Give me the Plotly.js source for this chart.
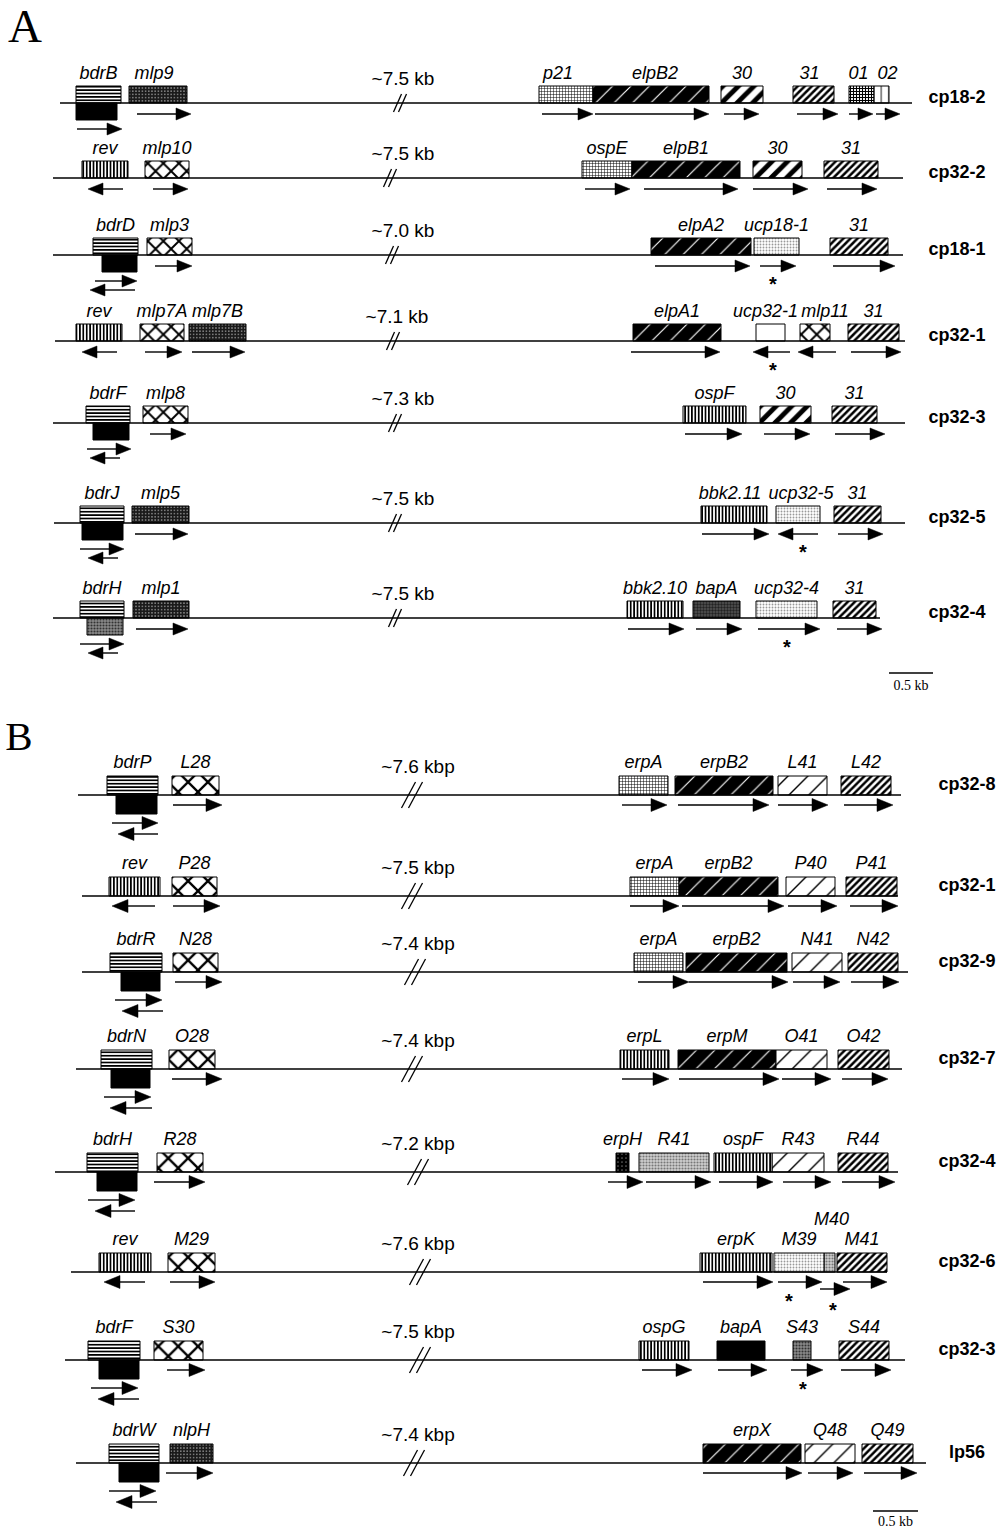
<!DOCTYPE html>
<html><head><meta charset="utf-8">
<script src="https://cdn.plot.ly/plotly-3.0.1.min.js"></script>
<style>html,body{margin:0;padding:0;background:#fff}</style>
</head><body><div id="chart" style="width:1002px;height:1531px"></div>
<script>
// ================= DATA (map units along the plasmid) =================
// ---- Panel A ----
const rowNamesA = ['cp18-2','cp32-2','cp18-1','cp32-1','cp32-3','cp32-5','cp32-4'];
const rowYA     = [103,178,255,341,423,523,618];
const lineStartA= [60,53,53,55,53,54,53];
const lineEndA  = [912,903,903,905,905,905,880];
const gapTextA  = ['~7.5 kb','~7.5 kb','~7.0 kb','~7.1 kb','~7.3 kb','~7.5 kb','~7.5 kb'];
const breakXA   = [400,390,392,393,395,395,395];
// [row, gene, start, end, fill, level(u=above line, d=below), labelShift, labelLift]
const genesA = [
 [0,'bdrB',76,121,'hlines','u'],[0,'',76,117,'black','d'],[0,'mlp9',129,187,'speckle','u',-4],
 [0,'p21',539,593,'grid','u',-8],[0,'elpB2',593,709,'blackdiag','u',4],[0,'30',721,763,'bolddiag','u'],
 [0,'31',793,834,'densediag','u',-4],[0,'01',849,874,'checker','u',-3],[0,'02',874,889,'split','u',6],
 [1,'rev',82,128,'vlines','u'],[1,'mlp10',145,189,'cross','u'],[1,'ospE',582,632,'grid','u'],
 [1,'elpB1',632,740,'blackdiag','u'],[1,'30',753,802,'bolddiag','u'],[1,'31',824,878,'densediag','u'],
 [2,'bdrD',93,138,'hlines','u'],[2,'',102,137,'black','d'],[2,'mlp3',147,192,'cross','u'],
 [2,'elpA2',651,751,'blackdiag','u'],[2,'ucp18-1',754,799,'lightdot','u'],[2,'31',830,888,'densediag','u'],
 [3,'rev',76,122,'vlines','u'],[3,'mlp7A',140,184,'cross','u'],[3,'mlp7B',189,246,'speckle','u'],
 [3,'elpA1',633,721,'blackdiag','u'],[3,'ucp32-1',756,785,'white','u',-5],[3,'mlp11',800,830,'cross','u',10],
 [3,'31',848,899,'densediag','u'],
 [4,'bdrF',86,130,'hlines','u'],[4,'',93,129,'black','d'],[4,'mlp8',143,188,'cross','u'],
 [4,'ospF',683,746,'vlines','u'],[4,'30',760,811,'bolddiag','u'],[4,'31',832,877,'densediag','u'],
 [5,'bdrJ',80,124,'hlines','u'],[5,'',82,123,'black','d'],[5,'mlp5',132,189,'speckle','u'],
 [5,'bbk2.11',701,767,'vlines','u',-4],[5,'ucp32-5',776,820,'lightdot','u',3],[5,'31',834,881,'densediag','u'],
 [6,'bdrH',80,124,'hlines','u'],[6,'',87,123,'darkgray','d'],[6,'mlp1',133,189,'speckle','u'],
 [6,'bbk2.10',627,683,'vlines','u'],[6,'bapA',693,740,'darkdot','u'],[6,'ucp32-4',756,817,'lightdot','u'],
 [6,'31',833,876,'densediag','u']
];
// [row, from, to, lane]  (direction = from -> to)
const arrowsA = [
 [0,137,191,0],[0,77,122,1],[0,542,593,0],[0,595,709,0],[0,724,759,0],[0,797,838,0],[0,849,873,0],[0,876,900,0],
 [1,123,88,0],[1,153,188,0],[1,585,630,0],[1,644,738,0],[1,753,808,0],[1,827,877,0],
 [2,155,192,0],[2,95,137,1],[2,135,90,2],[2,655,750,0],[2,760,796,0],[2,833,895,0],
 [3,117,82,0],[3,145,182,0],[3,192,245,0],[3,631,720,0],[3,790,753,0],[3,836,798,0],[3,851,901,0],
 [4,150,186,0],[4,87,131,1],[4,120,90,2],[4,685,742,0],[4,764,810,0],[4,835,885,0],
 [5,135,188,0],[5,80,124,1],[5,118,88,2],[5,702,769,0],[5,818,778,0],[5,838,883,0],
 [6,136,188,0],[6,80,124,1],[6,118,88,2],[6,628,684,0],[6,696,742,0],[6,758,820,0],[6,837,882,0]
];
const starsA = [[2,773,0],[3,773,0],[5,803,0],[6,787,0]];
const scaleA = [889,933,'0.5 kb'];

// ---- Panel B ----
const rowNamesB = ['cp32-8','cp32-1','cp32-9','cp32-7','cp32-4','cp32-6','cp32-3','lp56'];
const rowYB     = [795,896,972,1069,1172,1272,1360,1463];
const lineStartB= [78,82,82,76,55,71,65,76];
const lineEndB  = [901,898,908,902,898,887,905,926];
const gapTextB  = ['~7.6 kbp','~7.5 kbp','~7.4 kbp','~7.4 kbp','~7.2 kbp','~7.6 kbp','~7.5 kbp','~7.4 kbp'];
const breakXB   = [412,412,415,412,418,420,420,414];
const genesB = [
 [0,'bdrP',107,158,'hlines','u'],[0,'',116,157,'black','d'],[0,'L28',172,219,'crossL','u'],
 [0,'erpA',619,668,'grid','u'],[0,'erpB2',675,773,'blackdiag','u'],[0,'L41',778,827,'thindiag','u'],[0,'L42',841,891,'densediag','u'],
 [1,'rev',109,160,'vlines','u'],[1,'P28',172,217,'crossL','u'],
 [1,'erpA',630,679,'grid','u'],[1,'erpB2',679,778,'blackdiag','u'],[1,'P40',786,835,'thindiag','u'],[1,'P41',846,897,'densediag','u'],
 [2,'bdrR',110,162,'hlines','u'],[2,'',121,160,'black','d'],[2,'N28',173,218,'crossL','u'],
 [2,'erpA',634,683,'grid','u'],[2,'erpB2',686,787,'blackdiag','u'],[2,'N41',792,842,'thindiag','u'],[2,'N42',848,898,'densediag','u'],
 [3,'bdrN',101,152,'hlines','u'],[3,'',111,150,'black','d'],[3,'O28',169,215,'crossL','u'],
 [3,'erpL',620,669,'vlines','u'],[3,'erpM',678,776,'blackdiag','u'],[3,'O41',776,827,'thindiag','u'],[3,'O42',838,889,'densediag','u'],
 [4,'bdrH',87,138,'hlines','u'],[4,'',97,137,'black','d'],[4,'R28',157,203,'crossL','u'],
 [4,'erpH',616,629,'blackdot','u'],[4,'R41',639,709,'gray','u'],[4,'ospF',714,772,'vlines','u'],
 [4,'R43',772,824,'thindiag','u'],[4,'R44',838,888,'densediag','u'],
 [5,'rev',99,151,'vlines','u'],[5,'M29',168,215,'crossL','u'],
 [5,'erpK',700,772,'vlines','u'],[5,'M39',774,824,'lightdot','u'],[5,'M40',824,835,'gray','u',2,20],[5,'M41',837,887,'densediag','u'],
 [6,'bdrF',88,140,'hlines','u'],[6,'',99,139,'black','d'],[6,'S30',154,203,'crossL','u'],
 [6,'ospG',639,689,'vlines','u'],[6,'bapA',717,765,'black','u'],[6,'S43',793,811,'darkgray','u'],[6,'S44',839,889,'densediag','u'],
 [7,'bdrW',109,159,'hlines','u'],[7,'',119,159,'black','d'],[7,'nlpH',170,213,'speckle','u'],
 [7,'erpX',703,801,'blackdiag','u'],[7,'Q48',805,855,'thindiag','u'],[7,'Q49',862,913,'densediag','u']
];
const arrowsB = [
 [0,173,222,0],[0,112,158,1],[0,158,118,2],[0,622,667,0],[0,678,769,0],[0,778,828,0],[0,844,893,0],
 [1,155,112,0],[1,173,220,0],[1,630,679,0],[1,682,784,0],[1,788,837,0],[1,850,898,0],
 [2,175,222,0],[2,115,162,1],[2,163,122,2],[2,638,689,0],[2,689,788,0],[2,793,840,0],[2,851,899,0],
 [3,172,222,0],[3,104,151,1],[3,152,110,2],[3,622,669,0],[3,679,779,0],[3,782,831,0],[3,842,888,0],
 [4,154,205,0],[4,88,135,1],[4,135,95,2],[4,608,643,0],[4,646,711,0],[4,719,773,0],[4,783,831,0],[4,842,895,0],
 [5,145,104,0],[5,170,215,0],[5,703,773,0],[5,778,822,0],[5,820,850,3],[5,843,887,0],
 [6,167,205,0],[6,91,138,1],[6,139,98,2],[6,642,692,0],[6,718,767,0],[6,791,823,0],[6,841,891,0],
 [7,166,213,0],[7,109,156,1],[7,157,116,2],[7,703,802,0],[7,808,853,0],[7,864,917,0]
];
const starsB = [[5,789,0],[5,833,1],[6,803,0]];
const scaleB = [873,918,'0.5 kb'];

// ================= STYLES =================
const SANS = 'Liberation Sans, Arial, Helvetica, sans-serif';
const SERIF = 'Liberation Serif, Times New Roman, serif';
const FILLS = {
  hlines:   {bg:'#fff', p:{shape:'-', fgcolor:'#000', size:3.4, solidity:0.5}},
  black:    {bg:'#000'},
  speckle:  {bg:'#1a1a1a', p:{shape:'.', fgcolor:'#fff', size:3.2, solidity:0.12}},
  grid:     {bg:'#fff', p:{shape:'+', fgcolor:'#000', size:3, solidity:0.3}},
  blackdiag:{bg:'#000', p:{shape:'/', fgcolor:'#fff', size:13, solidity:0.09}},
  bolddiag: {bg:'#fff', p:{shape:'/', fgcolor:'#000', size:11, solidity:0.45}},
  densediag:{bg:'#fff', p:{shape:'/', fgcolor:'#000', size:5, solidity:0.5}},
  checker:  {bg:'#fff', p:{shape:'+', fgcolor:'#000', size:3, solidity:0.6}},
  split:    {bg:'#fff', p:{shape:'|', fgcolor:'#000', size:7.5, solidity:0.12}},
  vlines:   {bg:'#fff', p:{shape:'|', fgcolor:'#000', size:3.4, solidity:0.5}},
  cross:    {bg:'#fff', p:{shape:'x', fgcolor:'#000', size:11, solidity:0.32}},
  crossL:   {bg:'#fff', p:{shape:'x', fgcolor:'#000', size:14, solidity:0.3}},
  lightdot: {bg:'#fff', p:{shape:'.', fgcolor:'#999', size:3, solidity:0.3}},
  white:    {bg:'#fff'},
  thindiag: {bg:'#fff', p:{shape:'/', fgcolor:'#000', size:14, solidity:0.1}},
  gray:     {bg:'#cfcfcf', p:{shape:'.', fgcolor:'#777', size:3, solidity:0.4}},
  darkgray: {bg:'#8a8a8a', p:{shape:'.', fgcolor:'#333', size:3, solidity:0.4}},
  darkdot:  {bg:'#555', p:{shape:'.', fgcolor:'#222', size:3, solidity:0.5}},
  blackdot: {bg:'#000', p:{shape:'.', fgcolor:'#666', size:4, solidity:0.15}}
};
const PANELS = [
  {rows:rowNamesA, base:rowYA, ls:lineStartA, le:lineEndA, gap:gapTextA, brk:breakXA,
   genes:genesA, arrows:arrowsA, stars:starsA, scale:scaleA,
   boxH:17, laneDy:[11,26,35,17], starDy:[31,41], labelLift:12, rowLabelX:957, rowLabelDy:-5,
   gapX:403, gapDy:-23, brkH:9, brkDx:4, brkSep:5, headL:15, headH:6, scaleY:673, scaleDy:13,
   letter:'A', letterX:25, letterY:30, letterSize:47},
  {rows:rowNamesB, base:rowYB, ls:lineStartB, le:lineEndB, gap:gapTextB, brk:breakXB,
   genes:genesB, arrows:arrowsB, stars:starsB, scale:scaleB,
   boxH:19, laneDy:[10,28,39,17], starDy:[31,40], labelLift:13, rowLabelX:967, rowLabelDy:-10,
   gapX:418, gapDy:-27, brkH:13, brkDx:7, brkSep:7, headL:16, headH:6.5, scaleY:1511, scaleDy:11,
   letter:'B', letterX:19, letterY:740, letterSize:41}
];

// ================= BUILD =================
const traces = [];
const lineX=[], lineY=[], brX=[], brY=[], shX=[], shY=[], hdX=[], hdY=[];
const gl = {x:[],y:[],t:[]}, rl = {x:[],y:[],t:[]}, gt = {x:[],y:[],t:[]}, st = {x:[],y:[],t:[]}, sc={x:[],y:[],t:[]};
const barGroups = {};
const letters = {x:[],y:[],t:[],s:[]};

PANELS.forEach((P,pi) => {
  P.rows.forEach((name,i) => {
    const b = P.base[i];
    lineX.push(P.ls[i], P.le[i], null); lineY.push(b, b, null);
    [-P.brkSep/2, P.brkSep/2].forEach(off => {
      const cx = P.brk[i] + off;
      brX.push(cx - P.brkDx, cx + P.brkDx, null); brY.push(b + P.brkH, b - P.brkH, null);
    });
    gt.x.push(P.gapX + (pi===0 && i===3 ? -6 : 0)); gt.y.push(b + P.gapDy); gt.t.push(P.gap[i]);
    rl.x.push(P.rowLabelX); rl.y.push(b + P.rowLabelDy); rl.t.push(name);
  });
  P.genes.forEach(g => {
    const [r, name, s, e, fill, lvl, shift=0, lift=0] = g;
    const b = P.base[r], h = P.boxH;
    const key = pi + ':' + fill;
    if (!barGroups[key]) barGroups[key] = {fill, h, y:[], x:[], base:[]};
    barGroups[key].y.push(lvl === 'u' ? b - h/2 : b + h/2);
    barGroups[key].x.push(e - s);
    barGroups[key].base.push(s);
    if (name) { gl.x.push((s+e)/2 + shift); gl.y.push(b - h - P.labelLift - lift); gl.t.push(name); }
  });
  P.arrows.forEach(a => {
    const [r, from, to, lane] = a;
    const y = P.base[r] + P.laneDy[lane];
    const dir = to > from ? 1 : -1;
    const neck = to - dir * P.headL;
    shX.push(from, neck, null); shY.push(y, y, null);
    hdX.push(to, neck, neck, to, null); hdY.push(y, y - P.headH, y + P.headH, y, null);
  });
  P.stars.forEach(sv => {
    const [r, x, lane] = sv;
    st.x.push(x); st.y.push(P.base[r] + P.starDy[lane]); st.t.push('*');
  });
  lineX.push(P.scale[0], P.scale[1], null); lineY.push(P.scaleY, P.scaleY, null);
  sc.x.push((P.scale[0]+P.scale[1])/2); sc.y.push(P.scaleY + P.scaleDy); sc.t.push(P.scale[2]);
  letters.x.push(P.letterX); letters.y.push(P.letterY); letters.t.push(P.letter); letters.s.push(P.letterSize);
});

// baselines + scale bars
traces.push({type:'scatter', mode:'lines', x:lineX, y:lineY, line:{color:'#000', width:1.4}, hoverinfo:'skip'});
// break marks
traces.push({type:'scatter', mode:'lines', x:brX, y:brY, line:{color:'#000', width:1.3}, hoverinfo:'skip'});
// gene boxes
Object.values(barGroups).forEach(G => {
  const F = FILLS[G.fill];
  const marker = {color:F.bg, line:{color:'#000', width:1}};
  if (F.p) marker.pattern = Object.assign({bgcolor:F.bg, fillmode:'replace'}, F.p);
  traces.push({type:'bar', orientation:'h', y:G.y, x:G.x, base:G.base, width:G.h,
               marker, hoverinfo:'skip'});
});
// arrow shafts and heads
traces.push({type:'scatter', mode:'lines', x:shX, y:shY, line:{color:'#000', width:1.4}, hoverinfo:'skip'});
traces.push({type:'scatter', mode:'lines', x:hdX, y:hdY, fill:'toself', fillcolor:'#000',
             line:{color:'#000', width:0.5}, hoverinfo:'skip'});
// texts
const textTrace = (T, font, extra) => Object.assign({type:'scatter', mode:'text', x:T.x, y:T.y, text:T.t,
  textposition:'middle center', textfont:font, cliponaxis:false, hoverinfo:'skip'}, extra||{});
traces.push(textTrace(gl, {family:SANS, size:18, color:'#000', style:'italic'}));
traces.push(textTrace(rl, {family:SANS, size:18, color:'#000', weight:'bold'}));
traces.push(textTrace(gt, {family:SANS, size:19, color:'#000'}));
traces.push(textTrace(st, {family:SANS, size:20, color:'#000', weight:'bold'}));
traces.push(textTrace(sc, {family:SERIF, size:14, color:'#000'}));
traces.push(textTrace(letters, {family:SERIF, size:letters.s, color:'#000'}));

const layout = {
  width:1002, height:1531, margin:{l:0,r:0,t:0,b:0},
  paper_bgcolor:'#fff', plot_bgcolor:'#fff', showlegend:false, barmode:'overlay',
  xaxis:{range:[0,1002], visible:false, fixedrange:true},
  yaxis:{range:[1531,0], visible:false, fixedrange:true}
};
Plotly.newPlot('chart', traces, layout, {staticPlot:true, displayModeBar:false});
</script>
</body></html>
